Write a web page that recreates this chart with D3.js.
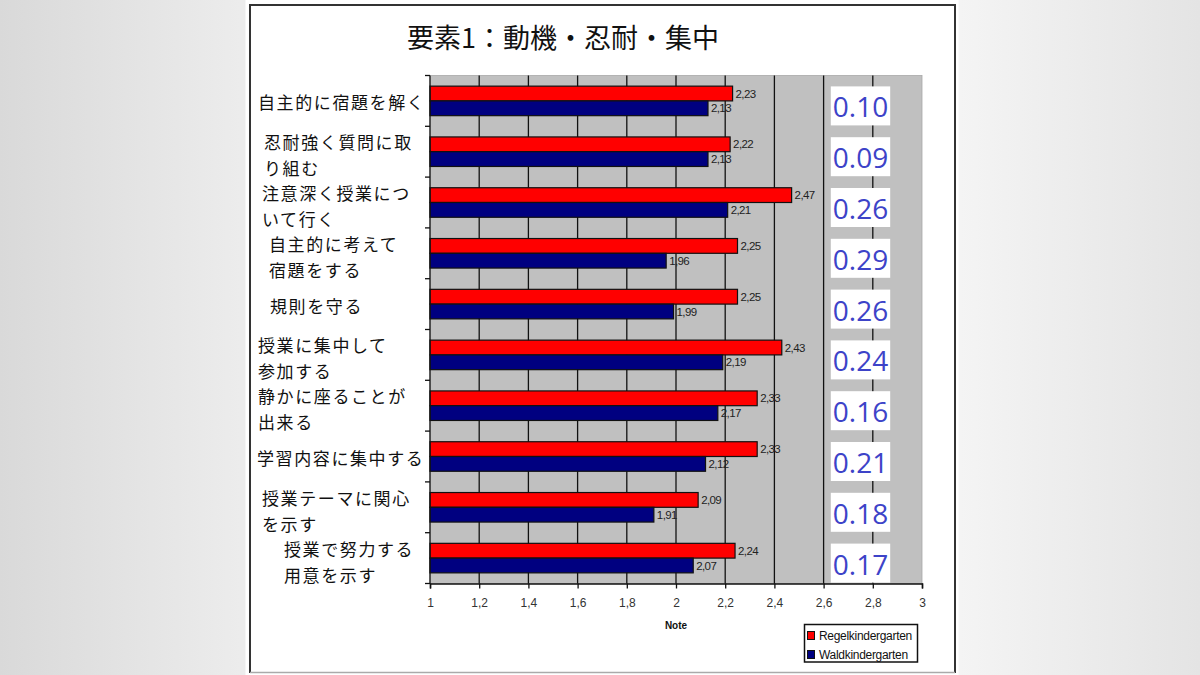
<!DOCTYPE html>
<html>
<head>
<meta charset="utf-8">
<script src="https://cdn.jsdelivr.net/npm/d3@7"></script>
<style>
  html, body { margin: 0; padding: 0; width: 1200px; height: 675px; overflow: hidden; }
  svg { display: block; }
</style>
</head>
<body>
<svg id="chart" width="1200" height="675"></svg>
<script>
// ---------------- DATA ----------------
const title = "要素1：動機・忍耐・集中";
const categories = [
  "自主的に宿題を解く",
  "忍耐強く質問に取\nり組む",
  "注意深く授業につ\nいて行く",
  "自主的に考えて\n宿題をする",
  "規則を守る",
  "授業に集中して\n参加する",
  "静かに座ることが\n出来る",
  "学習内容に集中する",
  "授業テーマに関心\nを示す",
  "授業で努力する\n用意を示す"
];
const seriesNames = ["Regelkindergarten", "Waldkindergarten"];
const regelValues = [2.23, 2.22, 2.47, 2.25, 2.25, 2.43, 2.33, 2.33, 2.09, 2.24];
const waldValues  = [2.13, 2.13, 2.21, 1.96, 1.99, 2.19, 2.17, 2.12, 1.91, 2.07];
const diffLabels  = ["0.10", "0.09", "0.26", "0.29", "0.26", "0.24", "0.16", "0.21", "0.18", "0.17"];
const xTicks = [1, 1.2, 1.4, 1.6, 1.8, 2, 2.2, 2.4, 2.6, 2.8, 3];
const xTitle = "Note";

// ---------------- LAYOUT ----------------
const svg = d3.select("#chart");
const plot = { left: 430, right: 922, top: 75.5, bottom: 583.5 };
const labelIndent = [258, 264, 262, 269, 270, 258, 258, 257, 262, 284];
const colors = ["#ff0000", "#000080"];

// page background
const defs = svg.append("defs");
const bg = defs.append("linearGradient").attr("id", "bg").attr("x1", "0").attr("x2", "1").attr("y1", "0").attr("y2", "0");
bg.append("stop").attr("offset", "0").attr("stop-color", "#d9d9d9");
bg.append("stop").attr("offset", "0.2").attr("stop-color", "#ececec");
bg.append("stop").attr("offset", "0.8").attr("stop-color", "#f4f4f4");
bg.append("stop").attr("offset", "1").attr("stop-color", "#e4e4e4");
svg.append("rect").attr("width", 1200).attr("height", 675).attr("fill", "url(#bg)");

// white slide frame
svg.append("rect").attr("x", 245.5).attr("y", 0).attr("width", 713).attr("height", 675).attr("fill", "#ffffff");
svg.append("path")
  .attr("d", "M250,673 L250,5 L955,5 L955,673")
  .attr("fill", "none").attr("stroke", "#333").attr("stroke-width", 2);
svg.append("line").attr("x1", 250).attr("x2", 955).attr("y1", 672.5).attr("y2", 672.5)
  .attr("stroke", "#aaa").attr("stroke-width", 1.5);

// title
svg.append("text")
  .attr("x", 407).attr("y", 48)
  .attr("font-family", "'Noto Sans CJK JP', sans-serif")
  .attr("font-size", 27).attr("fill", "#111")
  .text(title);

// scales
const x = d3.scaleLinear().domain([1, 3]).range([plot.left, plot.right]);
const y = d3.scaleBand().domain(categories).range([plot.top, plot.bottom]).padding(0);
const yInner = d3.scaleBand().domain(seriesNames).range([0, y.bandwidth()]).paddingInner(0).paddingOuter(0.72);

// plot background
svg.append("rect")
  .attr("x", x(1)).attr("y", plot.top)
  .attr("width", x(3) - x(1)).attr("height", plot.bottom - plot.top)
  .attr("fill", "#c0c0c0").attr("stroke", "#a8a8a8").attr("stroke-width", 0.8);

// gridlines
svg.append("g").selectAll("line")
  .data(xTicks.filter(t => t > 1 && t < 3))
  .join("line")
  .attr("x1", d => x(d)).attr("x2", d => x(d))
  .attr("y1", plot.top).attr("y2", plot.bottom)
  .attr("stroke", "#111").attr("stroke-width", 1.3);

// bars
const rows = categories.map((c, i) => ({ c, i, vals: [regelValues[i], waldValues[i]] }));
const fmt = v => d3.format(".2f")(v).replace(".", ",");
const barG = svg.append("g");
rows.forEach(r => {
  r.vals.forEach((v, k) => {
    const yy = y(r.c) + yInner(seriesNames[k]);
    barG.append("rect")
      .attr("x", x(1)).attr("y", yy)
      .attr("width", x(v) - x(1)).attr("height", yInner.bandwidth())
      .attr("fill", colors[k]).attr("stroke", "#111").attr("stroke-width", 1.2);
    barG.append("text")
      .attr("x", x(v) + 3).attr("y", yy + yInner.bandwidth() / 2 + 1)
      .attr("dominant-baseline", "middle")
      .attr("font-family", "'Liberation Sans', Arial, sans-serif")
      .attr("font-size", 11.5).attr("letter-spacing", -0.6).attr("fill", "#222")
      .text(fmt(v));
  });
});

// difference boxes
const diffG = svg.append("g");
rows.forEach(r => {
  const cy = y(r.c) + y.bandwidth() / 2 + 5.5;
  const g = diffG.append("g");
  const t = g.append("text")
    .attr("x", x(2.75)).attr("y", cy)
    .attr("text-anchor", "middle").attr("dominant-baseline", "central")
    .attr("font-family", "'Open Sans', sans-serif")
    .attr("font-size", 28).attr("fill", "#3d43c8")
    .text(diffLabels[r.i]);
  const bb = t.node().getBBox();
  g.insert("rect", "text")
    .attr("x", bb.x - 2).attr("y", bb.y - 1)
    .attr("width", bb.width + 4).attr("height", bb.height + 1)
    .attr("fill", "#ffffff");
});

// left axis
const leftAxis = svg.append("g");
leftAxis.append("line")
  .attr("x1", plot.left).attr("x2", plot.left).attr("y1", plot.top).attr("y2", plot.bottom)
  .attr("stroke", "#111").attr("stroke-width", 1.3);
leftAxis.selectAll("line.tk")
  .data(categories.concat(["__end"]))
  .join("line").attr("class", "tk")
  .attr("x1", plot.left - 5).attr("x2", plot.left)
  .attr("y1", d => d === "__end" ? plot.bottom : y(d))
  .attr("y2", d => d === "__end" ? plot.bottom : y(d))
  .attr("stroke", "#111").attr("stroke-width", 1.3);

// category labels
const labG = svg.append("g");
rows.forEach(r => {
  const lines = r.c.split("\n");
  const cy = y(r.c) + y.bandwidth() / 2 + (lines.length > 1 ? 3 : 1);
  const lh = 26;
  lines.forEach((ln, j) => {
    labG.append("text")
      .attr("x", labelIndent[r.i])
      .attr("y", cy + (j - (lines.length - 1) / 2) * lh)
      .attr("dominant-baseline", "central")
      .attr("font-family", "'Noto Sans CJK JP', sans-serif")
      .attr("font-size", 17).attr("letter-spacing", 1.6).attr("fill", "#111")
      .text(ln);
  });
});

// bottom axis
const xAxis = d3.axisBottom(x).tickValues(xTicks).tickSize(5).tickPadding(10)
  .tickFormat(d => String(d).replace(".", ","));
const ax = svg.append("g").attr("transform", `translate(0,${plot.bottom})`).call(xAxis);
ax.select(".domain").attr("stroke", "#111").attr("stroke-width", 1.5);
ax.selectAll(".tick line").attr("stroke", "#111").attr("stroke-width", 1.3);
ax.selectAll(".tick text")
  .attr("font-family", "'Liberation Sans', Arial, sans-serif")
  .attr("font-size", 12).attr("fill", "#333");

svg.append("text")
  .attr("x", x(2)).attr("y", 629)
  .attr("text-anchor", "middle")
  .attr("font-family", "'Liberation Sans', Arial, sans-serif")
  .attr("font-size", 10).attr("font-weight", "bold").attr("fill", "#111")
  .text(xTitle);

// legend
const lg = svg.append("g");
lg.append("rect").attr("x", 804.5).attr("y", 624.5).attr("width", 113).attr("height", 37.5)
  .attr("fill", "#fff").attr("stroke", "#111").attr("stroke-width", 1.5);
seriesNames.forEach((n, k) => {
  const cy = 636 + k * 19;
  lg.append("rect").attr("x", 807.5).attr("y", cy - 4.5).attr("width", 7).attr("height", 8)
    .attr("fill", colors[k]).attr("stroke", "#111").attr("stroke-width", 1);
  lg.append("text").attr("x", 819).attr("y", cy)
    .attr("dominant-baseline", "central")
    .attr("font-family", "'Liberation Sans', Arial, sans-serif")
    .attr("font-size", 12).attr("letter-spacing", -0.3).attr("fill", "#111")
    .text(n);
});
</script>
</body>
</html>
